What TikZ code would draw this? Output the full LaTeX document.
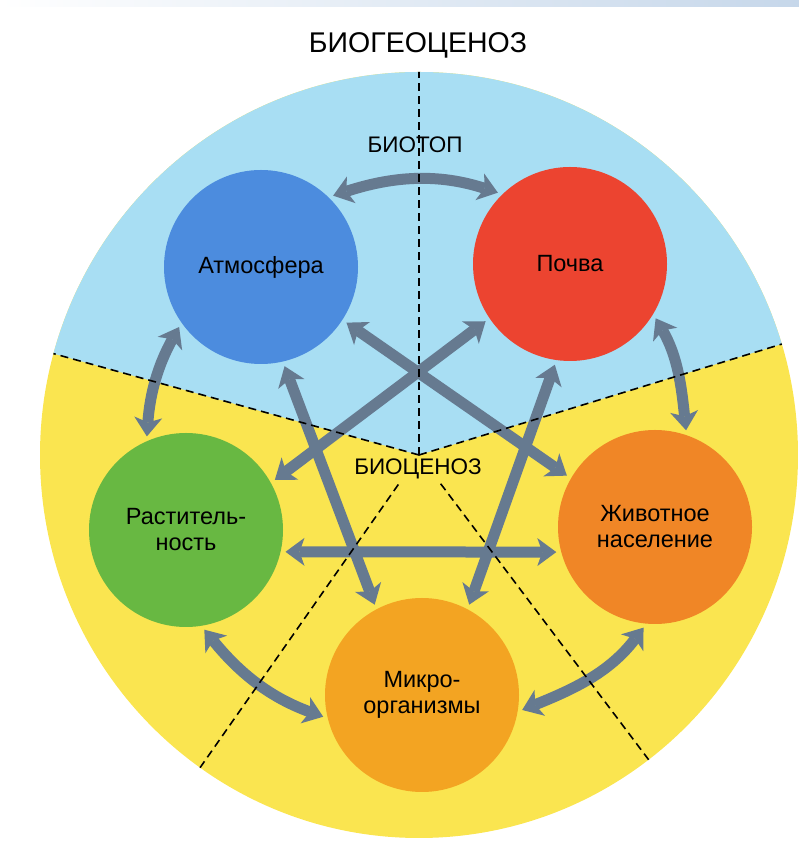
\documentclass[tikz,border=0pt]{standalone}
\usepackage{fontspec}
\setmainfont{Liberation Sans}
\usepackage{xcolor}
\usepackage{tikz}
\usetikzlibrary{arrows.meta}

\definecolor{skyblue}{RGB}{168,222,243}
\definecolor{sunyellow}{RGB}{250,229,80}
\definecolor{atmblue}{RGB}{76,140,222}
\definecolor{soilred}{RGB}{236,68,48}
\definecolor{animalorange}{RGB}{240,134,38}
\definecolor{plantgreen}{RGB}{104,184,66}
\definecolor{microorange}{RGB}{243,164,34}
\definecolor{arrowgray}{RGB}{102,122,144}
\definecolor{bandblue}{RGB}{198,215,234}

\begin{document}
\begin{tikzpicture}[
        x=1pt, y=1pt,
        sphere/.style={circle, minimum size=194pt, inner sep=0pt, outer sep=0pt, align=center, font=\fontsize{23.5}{26}\selectfont},
        link/.style={<->, >={Stealth[length=19pt, width=28pt, inset=5pt, line width=0pt]}, line width=11pt, draw=arrowgray, shorten >=5pt, shorten <=5pt},
        zoneline/.style={dash pattern=on 8pt off 5pt, line width=1.6pt},
        zonetext/.style={font=\fontsize{22.5}{26}\selectfont}
    ]
        \useasboundingbox (0,0) rectangle (799,842);
        \shade[left color=white, right color=bandblue] (0,835) rectangle (799,842);
        \coordinate (cen) at (419,387);
        
        % Background: biotope and biocenosis
        \begin{scope}
            \clip (cen) ellipse [x radius=379, y radius=383];
            \fill[sunyellow] (0,0) rectangle (799,842);
            \fill[skyblue] (cen) -- ([shift={(17:600)}]cen) -- ([shift={(90:600)}]cen) -- ([shift={(164.5:600)}]cen) -- cycle;
        \end{scope}
        
        % Components
        \node[sphere, fill=atmblue] (atm) at (261,575) {Атмосфера};
        \node[sphere, fill=soilred] (soil) at (570,578) {Почва};
        \node[sphere, fill=plantgreen] (plant) at (186,312) {Раститель-\\ность};
        \node[sphere, fill=animalorange] (ani) at (655,315) {Животное\\население};
        \node[sphere, fill=microorange] (micro) at (422,147) {Микро-\\организмы};
        
        % Outer ring
        \draw[link] (atm.46) to[out=18, in=162] (soil.134);
        \draw[link] (atm.215) to[out=241, in=86] (plant.114);
        \draw[link] (soil.329) to[out=300, in=96] (ani.71);
        \draw[link] (plant.279) to[out=309, in=160] (micro.194);
        \draw[link] (micro.350) to[out=22, in=233] (ani.265);
        
        % Inner star
        \draw[link] (atm.327) -- (ani.150);
        \draw[link] (atm.283) -- (micro.118);
        \draw[link] (soil.262) -- (micro.62);
        \draw[link] (soil.214) -- (plant.29);
        \draw[link] (plant.-13) -- (ani.195);
        
        % Borders
        \begin{scope}
            \clip (cen) ellipse [x radius=379, y radius=383];
            \draw[zoneline] (cen) -- ([shift={(90:600)}]cen);
            \draw[zoneline] (cen) -- ([shift={(17:600)}]cen);
            \draw[zoneline] (cen) -- ([shift={(164.5:600)}]cen);
            \draw[zoneline] ([shift={(235:36)}]cen) -- ([shift={(235:600)}]cen);
            \draw[zoneline] ([shift={(307:36)}]cen) -- ([shift={(307:600)}]cen);
        \end{scope}
        
        % Titles
        \node[font=\fontsize{28.5}{32}\selectfont] (title) at (418,797) {БИОГЕОЦЕНОЗ};
        \node[zonetext] (biotop) at (415,697) {БИОТОП};
        \node[zonetext] (biocen) at (418,373) {БИОЦЕНОЗ};
    \end{tikzpicture}
\end{document}
